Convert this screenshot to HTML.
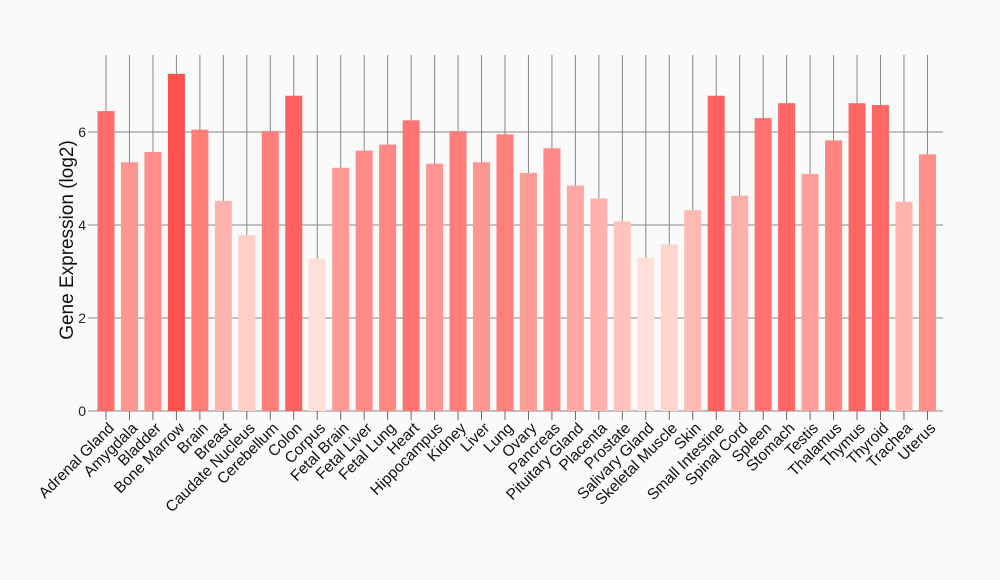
<!DOCTYPE html>
<html><head><meta charset="utf-8"><style>
html,body{margin:0;padding:0;background:#fafafa;}
svg{display:block;font-family:"Liberation Sans",Arial,sans-serif;}
</style></head><body>
<svg id="c" width="1000" height="580" xmlns="http://www.w3.org/2000/svg"></svg>
<script>
var names=["Adrenal Gland","Amygdala","Bladder","Bone Marrow","Brain","Breast","Caudate Nucleus","Cerebellum","Colon","Corpus","Fetal Brain","Fetal Liver","Fetal Lung","Heart","Hippocampus","Kidney","Liver","Lung","Ovary","Pancreas","Pituitary Gland","Placenta","Prostate","Salivary Gland","Skeletal Muscle","Skin","Small Intestine","Spinal Cord","Spleen","Stomach","Testis","Thalamus","Thymus","Thyroid","Trachea","Uterus"];
var vals=[6.45,5.35,5.57,7.25,6.05,4.52,3.78,6.02,6.78,3.28,5.23,5.6,5.73,6.25,5.32,6.02,5.35,5.95,5.12,5.65,4.85,4.57,4.08,3.3,3.58,4.32,6.78,4.63,6.3,6.62,5.1,5.82,6.62,6.58,4.5,5.52];
var y0=411,u=46.5,x0=106,dx=23.47,bw=17;
var s='';
for(var i=0;i<4;i++){var y=y0-i*2*u;s+='<line x1="93" x2="943" y1="'+y+'" y2="'+y+'" stroke="#888" stroke-width="1"/>';
s+='<text x="86" y="'+(y+5)+'" text-anchor="end" font-size="14" fill="#222">'+(i*2)+'</text>';
s+='<line x1="88" x2="93" y1="'+y+'" y2="'+y+'" stroke="#888"/>';}
for(var i=0;i<names.length;i++){var x=x0+i*dx;
s+='<line x1="'+x+'" x2="'+x+'" y1="55" y2="'+y0+'" stroke="#888" stroke-width="1"/>';}
for(var i=0;i<names.length;i++){var x=x0+i*dx,v=vals[i];
var t=(v-3.28)/(7.25-3.28);var g=Math.round(224-t*144),b=Math.round(216-t*136);
s+='<rect x="'+(x-bw/2)+'" y="'+(y0-v*u)+'" width="'+bw+'" height="'+(v*u)+'" fill="rgb(255,'+g+','+b+')"/>';
s+='<line x1="'+x+'" x2="'+x+'" y1="'+y0+'" y2="'+(y0+9)+'" stroke="#666"/>';
s+='<text transform="translate('+(x+9)+','+(y0+18)+') rotate(-45)" text-anchor="end" font-size="15.5" fill="#111">'+names[i]+'</text>';}
s+='<text transform="translate(73,240) rotate(-90)" text-anchor="middle" font-size="19" fill="#111">Gene Expression (log2)</text>';
document.getElementById('c').innerHTML=s;
</script>
</body></html>
